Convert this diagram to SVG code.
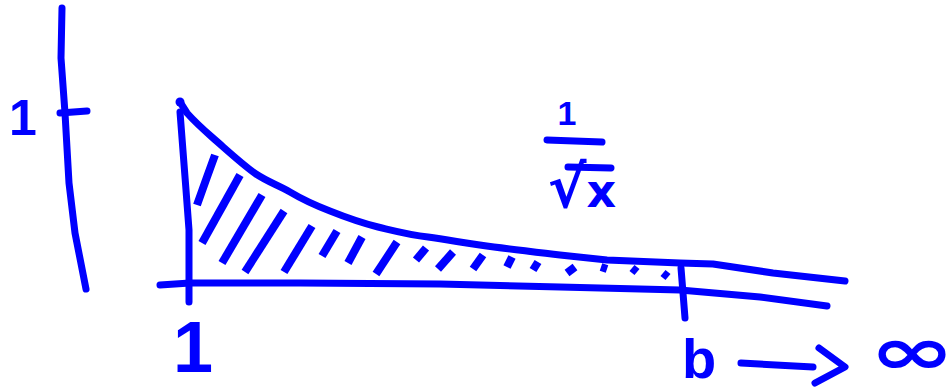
<svg xmlns="http://www.w3.org/2000/svg" width="951" height="391" viewBox="0 0 951 391">
<style>
.s{fill:none;stroke:#0000ff;stroke-width:7;stroke-linecap:round;stroke-linejoin:round}
.h{fill:none;stroke:#0000ff;stroke-width:8;stroke-linecap:butt;stroke-linejoin:round}
.t{fill:#0000ff;font-family:"Liberation Sans","DejaVu Sans",sans-serif;font-weight:bold;text-anchor:middle}
.m{fill:#0000ff;font-family:"DejaVu Sans","Liberation Sans",sans-serif;font-weight:bold;text-anchor:middle}
</style>
<rect width="951" height="391" fill="#ffffff"/>
<g id="y-axis">
<path class="s" d="M62,8 L61,58 L65,113 L69,183 L75,233 L86,289"/>
<path class="s" d="M60,113 L87,111"/>
<text class="t" x="23" y="135" font-size="50">1</text>
</g>
<g id="x-axis">
<path class="s" d="M160,285 L190,283 L300,283 L440,284 L560,287 L680,290 L760,297 L827,306"/>
<path class="s" d="M180,112 L186,190 L189,230 L189,302"/>
<path class="s" d="M681,268 L685,318"/>
<text class="t" x="193" y="372" font-size="72">1</text>
</g>
<g id="curve">
<circle cx="180" cy="102" r="4.5" fill="#0000ff"/>
<path class="s" d="M180,102 L187,113 C195,122 205,131 213,138 C228,151 243,165 256,174 C268,182 278,185 290,192 C305,201 317,206 330,211 C345,217 362,223 378,227 C395,231 410,235 428,237 C450,240 470,244 494,247 C520,250 540,253 560,255 L607,260 L680,263 L713,264 L773,273 L845,281"/>
</g>
<g id="hatching">
<path class="h" d="M215,155 L207,177 L197,205"/>
<path class="h" d="M240,175 L202,243"/>
<path class="h" d="M262,195 L222,263"/>
<path class="h" d="M284,211 L245,272"/>
<path class="h" d="M312,226 L284,272"/>
<path class="h" d="M337,231 L322,256"/>
<path class="h" d="M362,237 L348,263"/>
<path class="h" d="M397,242 L376,274"/>
<path class="h" d="M426,248 L416,260"/>
<path class="h" d="M453,252 L438,269"/>
<path class="h" d="M483,255 L473,269"/>
<path class="h" d="M512,257 L507,267"/>
<path class="h" d="M538,262 L533,270"/>
<path class="h" d="M567,273 L575,267"/>
<path class="h" d="M601,267 L607,269"/>
<path class="h" d="M632,268 L637,272"/>
<path class="h" d="M663,273 L668,277"/>
</g>
<g id="label-fraction">
<text class="t" x="567" y="125" font-size="34">1</text>
<path class="s" d="M547,140 L602,142"/>
<text class="m" x="582" y="207" font-size="46"><tspan font-size="58">√</tspan>x</text>
<path class="s" d="M568,167 L611,168"/>
</g>
<g id="label-limit">
<text class="t" x="699" y="378" font-size="56">b</text>
<path class="s" d="M741,363 L813,367"/>
<path class="s" d="M819,348 L845,367 L815,383"/>
<text class="m" x="912" y="374" font-size="66" textLength="86" lengthAdjust="spacingAndGlyphs">∞</text>
</g>
</svg>
